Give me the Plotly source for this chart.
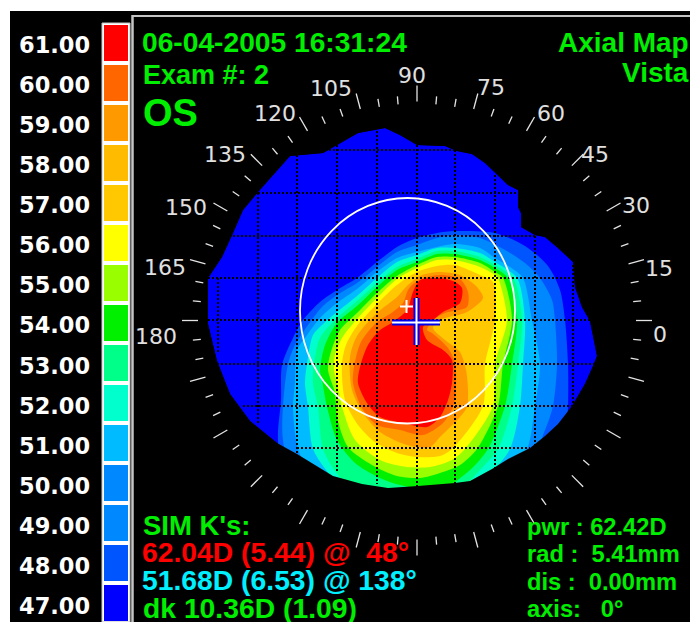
import math
import plotly.graph_objects as go

# ---- colour scale ----
scale_labels = ["61.00","60.00","59.00","58.00","57.00","56.00","55.00","54.00",
                "53.00","52.00","51.00","50.00","49.00","48.00","47.00"]
scale_colors = ["#ff0000","#ff6600","#ff9900","#ffbb00","#ffc800","#ffff00","#99ff00","#00f000",
                "#00ff88","#00ffcc","#00bbff","#0088ff","#0088ff","#0055ff","#0000ff"]
scale_tops = [25 + 40 * i for i in range(15)]

# ---- map outlines (image-pixel coordinates) ----
outline = [(385,128),(400,135),(417,145),(445,146),(457,151),(472,154),(485,163),(495,173),(508,185),(518,190),
           (518,207),(521,213),(521,227),(535,235),(545,237),(558,248),(573,262),(575,287),(582,307),(590,321),
           (597,356),(593,366),(585,384),(572,406),(558,424),(545,436),(530,448),(508,459),(492,469),(470,481),
           (455,483),(418,486),(388,488),(362,484),(345,479),(333,476),(297,454),(277,443),(250,421),(230,394),
           (217,361),(208,324),(208,278),(222,257),(233,233),(243,210),(258,192),(277,170),(290,156),(323,153),
           (345,140),(358,133)]
band_48 = [(278,440),(281,400),(282,365),(293,338),(303,320),(320,302),(337,290),(357,278),(377,262),(397,247),
           (417,238),(437,233),(455,231),(495,233),(525,246),(548,266),(560,290),(565,320),(568,364),(568,406),
           (566,430),(540,500),(290,500)]
band_50 = [(283,440),(283,406),(288,364),(295,345),(308,325),(322,307),(337,295),(357,283),(377,267),(397,252),
           (417,245),(437,238),(455,235),(480,238),(505,250),(525,263),(540,278),(552,300),(555,320),(557,364),
           (553,406),(545,430),(510,500),(300,500)]
band_51 = [(297,350),(295,383),(293,407),(298,449),(312,475),(340,500),(490,500),(505,475),(527,449),(535,406),
           (540,364),(532,320),(523,278),(510,267),(495,258),(480,248),(455,244),(437,247),(417,252),(397,258),(377,272),
           (357,289),(337,303),(320,318),(305,338)]
band_52 = [(313,335),(307,364),(305,383),(308,407),(313,449),(330,475),(355,500),(470,500),(490,475),(510,449),
           (520,406),(523,364),(525,320),(517,278),(495,262),(480,253),(455,248),(437,248),(417,255),(397,262),
           (377,278),(357,296),(337,312),(322,325)]
band_53 = [(320,338),(314,364),(313,383),(318,407),(323,449),(338,475),(365,500),(440,500),(460,490),(480,470),
           (498,449),(512,406),(518,364),(522,320),(513,278),(495,265),(480,257),(455,251),(437,251),(417,259),
           (397,267),(377,283),(357,301),(337,318)]
band_54 = [(325,345),(320,370),(322,380),(327,407),(337,440),(355,463),(380,478),(400,485),(440,490),(470,470),
           (488,449),(505,406),(512,364),(517,320),(508,278),(495,268),(480,260),(455,254),(437,254),(417,262),
           (397,270),(377,287),(357,306),(337,323)]
band_55 = [(330,355),(328,370),(335,393),(337,417),(348,447),(372,465),(397,476),(420,478),(440,473),(460,465),(477,449),
           (498,406),(503,364),(512,320),(503,278),(495,272),(480,263),(455,257),(437,257),(417,265),(397,276),
           (377,293),(357,313),(340,330)]
band_56 = [(335,355),(334,370),(337,383),(343,410),(355,440),(380,460),(407,467),(430,467),(452,460),(465,449),(493,406),
           (495,364),(507,320),(498,278),(495,275),(480,267),(455,260),(437,260),(417,268),(397,279),(377,298),
           (357,319),(342,338)]
band_57 = [(342,364),(345,400),(358,425),(375,442),(397,453),(417,457),(440,456),(452,449),(483,406),(485,364),
           (495,320),(493,282),(480,275),(455,265),(437,266),(417,272),(397,285),(377,304),(357,326),(346,345)]
band_59 = [(350,357),(352,390),(363,413),(380,432),(407,445),(430,447),(440,437),(460,417),(467,407),(468,390),
           (466,370),(460,352),(445,340),(433,328),(440,320),(467,312),(483,298),(477,287),(460,275),(437,272),
           (420,276),(408,285),(397,297),(377,313),(357,336)]
band_60 = [(353,383),(354,367),(361,342),(377,322),(390,314),(403,303),(408,290),(413,284),(427,277),(443,275),
           (460,279),(468,292),(467,307),(445,313),(433,320),(427,330),(432,333),(448,348),(455,363),(456,387),
           (453,407),(443,423),(423,435),(400,430),(377,425),(362,408)]
band_61 = [(420,280),(437,278),(453,281),(462,288),(460,303),(443,312),(433,320),(423,327),(427,340),(443,350),
           (452,360),(452,383),(448,400),(440,417),(427,427),(403,423),(380,417),(367,403),(358,383),(360,367),
           (368,345),(380,330),(393,322),(407,310),(413,292)]
bands = [(band_48,"#0055ff"),(band_50,"#0088ff"),(band_51,"#00bbff"),(band_52,"#00ffcc"),(band_53,"#00ff88"),
         (band_54,"#00f000"),(band_55,"#99ff00"),(band_56,"#ffff00"),(band_57,"#ffc800"),(band_59,"#ff9900"),
         (band_60,"#ff6600"),(band_61,"#ff0000")]

# ---- dotted grid: (position, start, end) ----
grid_vertical = [(218,278,354),(258,193,424),(297,155,454),(337,141,471),(377,131,484),(417,145,487),
                 (455,150,483),(495,175,468),(535,236,448),(573,265,406)]
grid_horizontal = [(150,325,455),(193,258,518),(236,233,537),(278,208,573),(320,208,590),
                   (364,217,595),(406,243,572),(448,297,530)]

# ---- angular scale ----
dial_centre = (417, 320.5)
dial_major_labels = [("0",660,334),("15",659,268),("30",636,205),("45",595,154),("60",551,113),("75",491,87),
                     ("90",412,75),("105",331,88),("120",275,113),("135",225,154),("150",186,207),("165",165,267),
                     ("180",156,336)]

# ---- texts ----
left_top = [("06-04-2005 16:31:24",142,42,28.2),("Exam #: 2",143,75,27)]
right_top = [("Axial Map",689,42,28),("Vista",689,72,28)]
sim_lines = [("SIM K's:",143,525,27.5,"#00ee00"),("62.04D (5.44) @  48°",142,552,28.3,"#ff0000"),
             ("51.68D (6.53) @ 138°",142,580,28.3,"#00f0ff"),("dk 10.36D (1.09)",143,608,28.3,"#00ee00")]
point_lines = [("pwr : 62.42D",527,527),("rad :  5.41mm",527,554),("dis :  0.00mm",527,582),("axis:   0°",527,609)]

fig = go.Figure()

def poly(points, color, shape="linear"):
    xs = [p[0] for p in points] + [points[0][0]]
    ys = [p[1] for p in points] + [points[0][1]]
    fig.add_trace(go.Scatter(x=xs, y=ys, mode="lines", fill="toself", fillcolor=color,
                             line=dict(width=0, color=color, shape=shape, smoothing=0.8),
                             hoverinfo="skip", showlegend=False))

# colour bar
fig.add_trace(go.Bar(x=[115.5]*15, y=[36]*15, base=scale_tops, width=[24]*15, marker=dict(color=scale_colors, line_width=0),
                     hoverinfo="skip", showlegend=False))

# map
poly(outline, "#0000ff")
for pts, col in bands:
    poly(pts, col, shape="spline")

# black mask: clips the bands to the outline
rect = [(135,19),(135,622),(690,622),(690,19),(135,19)]
hole = outline + [outline[0]]
mx = [p[0] for p in rect] + [None] + [p[0] for p in hole]
my = [p[1] for p in rect] + [None] + [p[1] for p in hole]
fig.add_trace(go.Scatter(x=mx, y=my, mode="lines", fill="toself", fillcolor="#000000",
                         line=dict(width=0), hoverinfo="skip", showlegend=False))

# grid
gx, gy = [], []
for pos, a, b in grid_vertical:
    gx += [pos, pos, None]; gy += [a, b, None]
for pos, a, b in grid_horizontal:
    gx += [a, b, None]; gy += [pos, pos, None]
fig.add_trace(go.Scatter(x=gx, y=gy, mode="lines", line=dict(color="#000000", width=2, dash="2px,2px"),
                         hoverinfo="skip", showlegend=False))

# dial ticks
tx, ty = [], []
for deg in range(0, 360, 5):
    a = math.radians(deg)
    major = deg % 15 == 0
    r0, r1 = (219, 235) if major else (217, 225)
    tx += [dial_centre[0] + r0*math.cos(a), dial_centre[0] + r1*math.cos(a), None]
    ty += [dial_centre[1] - r0*math.sin(a), dial_centre[1] - r1*math.sin(a), None]
fig.add_trace(go.Scatter(x=tx, y=ty, mode="lines", line=dict(color="#e4e4e4", width=1.3),
                         hoverinfo="skip", showlegend=False))

# cursor crosses
cursor_h = ([392,440],[322.5,322.5])
cursor_v = ([416.5,416.5],[298,345])
small_h = ([400,413],[306.5,306.5])
small_v = ([406.5,406.5],[300,313])
for x_, y_ in (cursor_h, cursor_v):
    fig.add_trace(go.Scatter(x=x_, y=y_, mode="lines", line=dict(color="#0000ee", width=6), hoverinfo="skip", showlegend=False))
for x_, y_ in (cursor_h, cursor_v, small_h, small_v):
    fig.add_trace(go.Scatter(x=x_, y=y_, mode="lines", line=dict(color="#ffffff", width=2), hoverinfo="skip", showlegend=False))

shapes = [
    dict(type="rect", x0=10, x1=690, y0=11, y1=622, fillcolor="#000000", line_width=0, layer="below"),
    dict(type="rect", x0=102, x1=130, y0=23, y1=622, fillcolor="#ffffff", line=dict(color="#c0c0c0", width=1), layer="below"),
    dict(type="line", x0=132.5, x1=132.5, y0=15, y1=622, line=dict(color="#c4c4c4", width=2.5), layer="above"),
    dict(type="line", x0=132, x1=690, y0=16, y1=16, line=dict(color="#c4c4c4", width=2), layer="above"),
    dict(type="circle", x0=300, x1=515, y0=198, y1=423.5, line=dict(color="#ffffff", width=1.8), layer="above"),
]

ann = []
def text(s, x, y, size, color, family="Liberation Sans", anchor="left", bold=True):
    ann.append(dict(x=x, y=y, xref="x", yref="y", text=f"<b>{s}</b>" if bold else s, showarrow=False,
                    xanchor=anchor, yanchor="middle", font=dict(family=family, size=size, color=color),
                    borderpad=0, borderwidth=0))

for i, lab in enumerate(scale_labels):
    text(lab, 19, 45 + 40.07*i, 22.5, "#ffffff", family="DejaVu Sans")
for s, x, y, sz in left_top:
    text(s, x, y, sz, "#00ee00")
text("OS", 143, 113, 38, "#00ee00")
for s, x, y, sz in right_top:
    text(s, x, y, sz, "#00ee00", anchor="right")
for s, x, y in dial_major_labels:
    text(s, x, y, 22, "#e0e0e0", family="DejaVu Sans", anchor="center", bold=False)
for s, x, y, sz, c in sim_lines:
    text(s, x, y, sz, c)
for s, x, y in point_lines:
    text(s, x, y, 23.7, "#00ee00")

fig.update_layout(
    width=690, height=622, margin=dict(l=0, r=0, t=0, b=0), autosize=False,
    paper_bgcolor="#ffffff", plot_bgcolor="rgba(0,0,0,0)", showlegend=False,
    xaxis=dict(range=[0,690], visible=False, fixedrange=True),
    yaxis=dict(range=[622,0], visible=False, fixedrange=True),
    shapes=shapes, annotations=ann, bargap=0,
)
fig.write_html("out.html", config={"displayModeBar": False},
               post_script="document.body.style.margin='0';document.body.style.overflow='hidden';")
